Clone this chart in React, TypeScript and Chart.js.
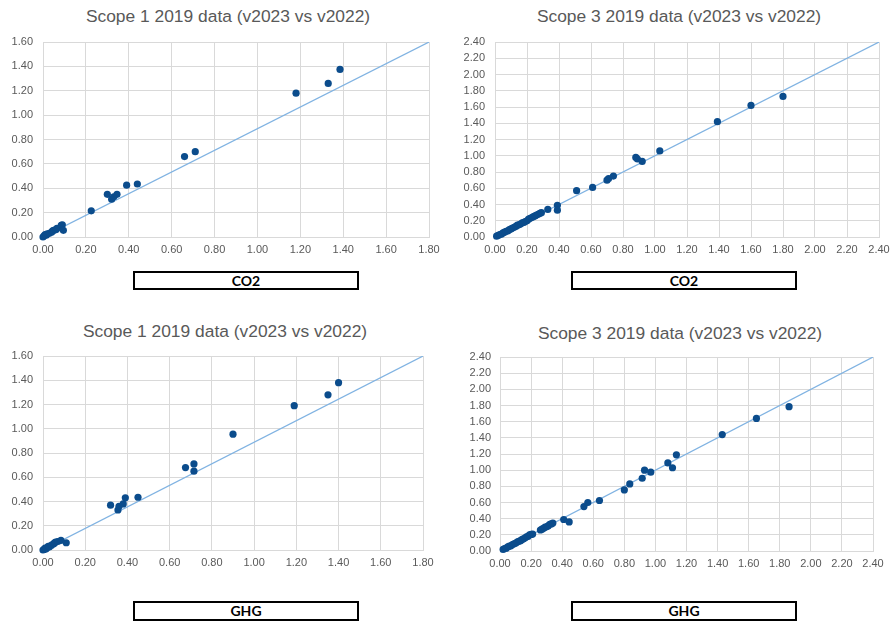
import React, { useEffect, useRef } from "react";
import { Chart, registerables } from "chart.js";

Chart.register(...registerables);

// ---------- data ----------
const scope1Co2X = [0.0, 0.005, 0.01, 0.015, 0.02, 0.03, 0.04, 0.045, 0.05, 0.06, 0.065, 0.085, 0.09, 0.095, 0.225, 0.3, 0.32, 0.33, 0.345, 0.39, 0.44, 0.66, 0.71, 1.18, 1.33, 1.385];
const scope1Co2Y = [0.0, 0.01, 0.02, 0.015, 0.025, 0.03, 0.04, 0.05, 0.055, 0.06, 0.07, 0.095, 0.1, 0.055, 0.215, 0.35, 0.31, 0.33, 0.35, 0.425, 0.435, 0.66, 0.7, 1.18, 1.26, 1.375];

const scope3Co2X = [0.01, 0.02, 0.03, 0.04, 0.05, 0.06, 0.07, 0.08, 0.09, 0.1, 0.11, 0.12, 0.13, 0.14, 0.15, 0.16, 0.17, 0.18, 0.19, 0.2, 0.21, 0.22, 0.23, 0.24, 0.25, 0.26, 0.27, 0.28, 0.29, 0.33, 0.39, 0.39, 0.51, 0.61, 0.7, 0.71, 0.74, 0.88, 0.89, 0.92, 1.03, 1.39, 1.6, 1.8];
const scope3Co2Y = [0.01, 0.02, 0.03, 0.035, 0.05, 0.06, 0.07, 0.075, 0.09, 0.1, 0.11, 0.12, 0.13, 0.145, 0.15, 0.16, 0.175, 0.18, 0.19, 0.2, 0.22, 0.23, 0.24, 0.25, 0.26, 0.27, 0.28, 0.29, 0.3, 0.34, 0.39, 0.33, 0.57, 0.61, 0.7, 0.72, 0.75, 0.98, 0.96, 0.93, 1.06, 1.42, 1.62, 1.73];

const scope1GhgX = [0.0, 0.005, 0.01, 0.015, 0.02, 0.025, 0.03, 0.04, 0.05, 0.055, 0.06, 0.07, 0.085, 0.11, 0.32, 0.355, 0.36, 0.38, 0.39, 0.45, 0.675, 0.715, 0.715, 0.9, 1.19, 1.35, 1.4];
const scope1GhgY = [0.0, 0.005, 0.015, 0.01, 0.02, 0.03, 0.025, 0.04, 0.05, 0.06, 0.065, 0.07, 0.08, 0.06, 0.37, 0.33, 0.36, 0.38, 0.43, 0.435, 0.68, 0.71, 0.65, 0.955, 1.19, 1.28, 1.38];

const scope3GhgX = [0.02, 0.03, 0.04, 0.05, 0.06, 0.07, 0.08, 0.09, 0.1, 0.11, 0.12, 0.13, 0.14, 0.15, 0.16, 0.17, 0.18, 0.19, 0.2, 0.21, 0.26, 0.27, 0.28, 0.29, 0.3, 0.31, 0.32, 0.33, 0.34, 0.41, 0.445, 0.54, 0.565, 0.64, 0.8, 0.835, 0.915, 0.93, 0.97, 1.08, 1.11, 1.135, 1.43, 1.65, 1.86];
const scope3GhgY = [0.02, 0.03, 0.035, 0.05, 0.06, 0.065, 0.08, 0.09, 0.095, 0.11, 0.12, 0.125, 0.14, 0.15, 0.16, 0.175, 0.18, 0.2, 0.205, 0.21, 0.26, 0.27, 0.28, 0.295, 0.3, 0.31, 0.33, 0.335, 0.345, 0.39, 0.36, 0.55, 0.6, 0.625, 0.755, 0.83, 0.9, 1.0, 0.975, 1.09, 1.03, 1.19, 1.44, 1.64, 1.785];

// axis ranges [min, max]
const scope1XRange = [0, 1.8];
const scope1YRange = [0, 1.6];
const scope3XRange = [0, 2.4];
const scope3YRange = [0, 2.4];
const tickStep = 0.2;

// reference line endpoints (x list, y list)
const scope1LineX = [0, 1.8];
const scope1LineY = [0, 1.6];
const scope3LineX = [0, 2.4];
const scope3LineY = [0, 2.4];

const titleScope1 = "Scope 1 2019 data (v2023 vs v2022)";
const titleScope3 = "Scope 3 2019 data (v2023 vs v2022)";
const labelCo2 = "CO2";
const labelGhg = "GHG";

// ---------- styles ----------
const TEXT_GRAY = "#595959";
const GRID = "#d9d9d9";
const POINT = "#0b4c8c";
const LINE = "#80b3e2";
const PAD_L = 45;
const PAD_T = 20;
const PAD_R = 20;
const AXIS_H = 24;

type Rect = { l: number; t: number; r: number; b: number };

function ScatterPanel(props: {
  rect: Rect;
  xs: number[];
  ys: number[];
  lineX: number[];
  lineY: number[];
  xRange: number[];
  yRange: number[];
  yPad: number;
}) {
  const ref = useRef<HTMLCanvasElement | null>(null);
  const { rect } = props;
  const w = rect.r - rect.l + PAD_L + PAD_R;
  const h = rect.b - rect.t + PAD_T + AXIS_H;

  useEffect(() => {
    if (!ref.current) return;
    const pts = props.xs.map((x, i) => ({ x, y: props.ys[i] }));
    const linePts = props.lineX.map((x, i) => ({ x, y: props.lineY[i] }));
    const tickFont = { family: "'Liberation Sans', Arial, sans-serif", size: 11 };
    const chart = new Chart(ref.current, {
      type: "scatter",
      data: {
        datasets: [
          {
            data: pts,
            backgroundColor: POINT,
            borderColor: POINT,
            pointRadius: 3.6,
            pointBorderWidth: 0,
            showLine: false,
            clip: false,
          } as any,
          {
            data: linePts,
            showLine: true,
            borderColor: LINE,
            borderWidth: 1.2,
            pointRadius: 0,
            fill: false,
          } as any,
        ],
      },
      options: {
        animation: false,
        responsive: false,
        maintainAspectRatio: false,
        layout: { padding: { left: 0, top: PAD_T, right: PAD_R, bottom: 0 } },
        plugins: { legend: { display: false }, tooltip: { enabled: false }, title: { display: false } },
        scales: {
          x: {
            type: "linear",
            min: props.xRange[0],
            max: props.xRange[1],
            grid: { color: GRID, drawTicks: false, lineWidth: 1 },
            border: { color: GRID },
            ticks: {
              stepSize: tickStep,
              autoSkip: false,
              maxRotation: 0,
              padding: 6,
              color: TEXT_GRAY,
              font: tickFont,
              callback: (v: any) => Number(v).toFixed(2),
            },
            afterFit: (s: any) => {
              s.height = AXIS_H;
            },
          },
          y: {
            type: "linear",
            min: props.yRange[0],
            max: props.yRange[1],
            grid: { color: GRID, drawTicks: false, lineWidth: 1 },
            border: { color: GRID },
            ticks: {
              stepSize: tickStep,
              autoSkip: false,
              padding: props.yPad,
              color: TEXT_GRAY,
              font: tickFont,
              callback: (v: any) => Number(v).toFixed(2),
            },
            afterFit: (s: any) => {
              s.width = PAD_L;
            },
          },
        },
      } as any,
    });
    return () => chart.destroy();
  }, []);

  return (
    <canvas
      ref={ref}
      width={w}
      height={h}
      style={{ position: "absolute", left: rect.l - PAD_L, top: rect.t - PAD_T, width: w, height: h }}
    />
  );
}

function Title(props: { text: string; cx: number; cy: number }) {
  return (
    <div
      style={{
        position: "absolute",
        left: props.cx - 200,
        top: props.cy - 10,
        width: 400,
        height: 20,
        lineHeight: "20px",
        textAlign: "center",
        fontFamily: "'Liberation Sans', Arial, sans-serif",
        fontSize: 17.4,
        color: TEXT_GRAY,
        whiteSpace: "nowrap",
      }}
    >
      {props.text}
    </div>
  );
}

function LabelBox(props: { text: string; l: number; t: number; w: number; h: number }) {
  return (
    <div
      style={{
        position: "absolute",
        left: props.l,
        top: props.t,
        width: props.w,
        height: props.h,
        boxSizing: "border-box",
        border: "2px solid #000",
        textAlign: "center",
        lineHeight: `${props.h - 4}px`,
        fontFamily: "Lato, 'Liberation Sans', sans-serif",
        fontWeight: 700,
        fontSize: 14,
        color: "#000",
        background: "#fff",
      }}
    >
      {props.text}
    </div>
  );
}

export default function App() {
  return (
    <div
      style={{
        position: "absolute",
        left: 0,
        top: 0,
        width: 890,
        height: 622,
        overflow: "hidden",
        background: "#fff",
      }}
    >
      <Title text={titleScope1} cx={228} cy={16} />
      <Title text={titleScope3} cx={679} cy={16} />
      <Title text={titleScope1} cx={225} cy={331} />
      <Title text={titleScope3} cx={680} cy={333} />

      <ScatterPanel rect={{ l: 43, t: 42, r: 429, b: 237 }} xs={scope1Co2X} ys={scope1Co2Y} lineX={scope1LineX} lineY={scope1LineY} xRange={scope1XRange} yRange={scope1YRange} yPad={10} />
      <ScatterPanel rect={{ l: 495, t: 42, r: 879, b: 237 }} xs={scope3Co2X} ys={scope3Co2Y} lineX={scope3LineX} lineY={scope3LineY} xRange={scope3XRange} yRange={scope3YRange} yPad={10} />
      <ScatterPanel rect={{ l: 43, t: 356, r: 423, b: 550 }} xs={scope1GhgX} ys={scope1GhgY} lineX={scope1LineX} lineY={scope1LineY} xRange={scope1XRange} yRange={scope1YRange} yPad={10} />
      <ScatterPanel rect={{ l: 500, t: 357, r: 873, b: 551 }} xs={scope3GhgX} ys={scope3GhgY} lineX={scope3LineX} lineY={scope3LineY} xRange={scope3XRange} yRange={scope3YRange} yPad={9} />

      <LabelBox text={labelCo2} l={133} t={271} w={226} h={19} />
      <LabelBox text={labelCo2} l={571} t={271} w={226} h={19} />
      <LabelBox text={labelGhg} l={133} t={601} w={226} h={20} />
      <LabelBox text={labelGhg} l={571} t={601} w={226} h={20} />
    </div>
  );
}
